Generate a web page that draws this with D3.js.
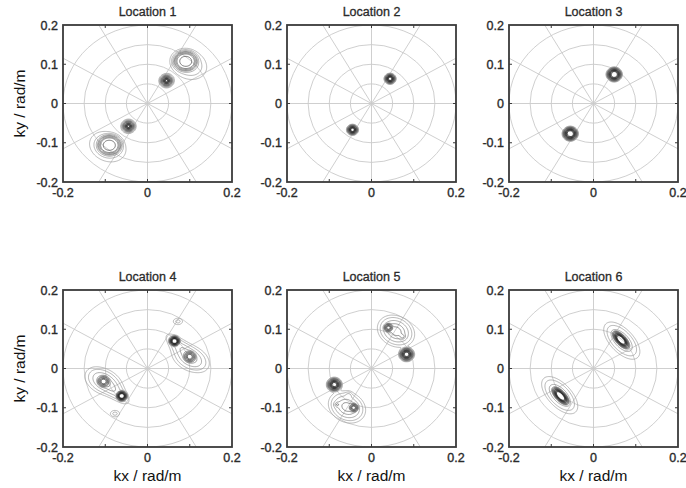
<!DOCTYPE html>
<html>
<head>
<meta charset="utf-8">
<script src="https://cdn.jsdelivr.net/npm/d3@7"></script>
<style>
  body { margin: 0; background: #fff; }
  svg { display: block; font-family: Arial, "Liberation Sans", sans-serif; }
  .grid { fill: none; stroke: #c9c9c9; stroke-width: 0.9; }
  .frame { fill: none; stroke: #3a3a3a; stroke-width: 1.8; }
  .tick { stroke: #3a3a3a; stroke-width: 1; }
  .tick-label { font-size: 12.5px; fill: #2a2a2a; stroke: #2a2a2a; stroke-width: 0.35; }
  .title { font-size: 12.5px; fill: #2a2a2a; stroke: #2a2a2a; stroke-width: 0.3; }
  .axis-title { font-size: 15.5px; fill: #111; }
</style>
</head>
<body>
<svg id="chart" width="686" height="488"></svg>
<script>
// ---- data ----
const locations = ['Location 1', 'Location 2', 'Location 3', 'Location 4', 'Location 5', 'Location 6'];
const xTicks = [-0.2, 0, 0.2];
const yTicks = [-0.2, -0.1, 0, 0.1, 0.2];
const minorTicks = [-0.1, 0, 0.1];
const gridRadii = [0.05, 0.1, 0.15, 0.2];
const spokeAngles = [0, 30, 60, 90, 120, 150, 180, 210, 240, 270, 300, 330];
const contourLevels = [0.01, 0.02, 0.04, 0.07, 0.1, 0.15, 0.2, 0.3, 0.4, 0.5, 0.6, 0.7, 0.8, 0.9];

// spectral peaks: kx, ky (rad/m), spread along/across (rad/m), angle (deg), amplitude, shape power
const peaks1 = [
  {kx: 0.045, ky: 0.058, su: 0.006, sv: 0.006, angle: 0, amp: 1.0, power: 2},
  {kx: -0.045, ky: -0.058, su: 0.006, sv: 0.006, angle: 0, amp: 1.0, power: 2},
  {kx: 0.090, ky: 0.108, su: 0.020, sv: 0.018, angle: 0, amp: 0.3, power: 4},
  {kx: 0.097, ky: 0.100, su: 0.026, sv: 0.021, angle: -30, amp: 0.045, power: 2},
  {kx: -0.090, ky: -0.106, su: 0.020, sv: 0.018, angle: 0, amp: 0.3, power: 4},
  {kx: -0.094, ky: -0.110, su: 0.026, sv: 0.021, angle: -30, amp: 0.045, power: 2}
];
const peaks2 = [
  {kx: 0.044, ky: 0.063, su: 0.0068, sv: 0.0068, angle: 0, amp: 1.0, power: 3},
  {kx: -0.045, ky: -0.067, su: 0.0068, sv: 0.0068, angle: 0, amp: 1.0, power: 3}
];
const peaks3 = [
  {kx: 0.049, ky: 0.074, su: 0.011, sv: 0.011, angle: 0, amp: 1.0, power: 4},
  {kx: -0.055, ky: -0.077, su: 0.011, sv: 0.011, angle: 0, amp: 1.0, power: 4}
];
const peaks4 = [
  {kx: 0.064, ky: 0.070, su: 0.008, sv: 0.008, angle: 0, amp: 1.0, power: 4},
  {kx: 0.100, ky: 0.030, su: 0.008, sv: 0.008, angle: 0, amp: 0.5, power: 3},
  {kx: 0.102, ky: 0.026, su: 0.024, sv: 0.016, angle: -30, amp: 0.07, power: 2},
  {kx: 0.082, ky: 0.050, su: 0.028, sv: 0.010, angle: -45, amp: 0.05, power: 2},
  {kx: 0.072, ky: 0.120, su: 0.008, sv: 0.006, angle: 0, amp: 0.025, power: 2},
  {kx: -0.061, ky: -0.070, su: 0.008, sv: 0.008, angle: 0, amp: 1.0, power: 4},
  {kx: -0.104, ky: -0.033, su: 0.008, sv: 0.008, angle: 0, amp: 0.5, power: 3},
  {kx: -0.104, ky: -0.033, su: 0.024, sv: 0.016, angle: -30, amp: 0.07, power: 2},
  {kx: -0.082, ky: -0.052, su: 0.028, sv: 0.010, angle: -45, amp: 0.05, power: 2},
  {kx: -0.077, ky: -0.115, su: 0.008, sv: 0.006, angle: 0, amp: 0.025, power: 2}
];
const peaks5 = [
  {kx: 0.083, ky: 0.036, su: 0.009, sv: 0.009, angle: 0, amp: 1.0, power: 3},
  {kx: -0.088, ky: -0.041, su: 0.009, sv: 0.009, angle: 0, amp: 1.0, power: 3},
  {kx: 0.040, ky: 0.104, su: 0.006, sv: 0.006, angle: 0, amp: 0.5, power: 3},
  {kx: 0.058, ky: 0.095, su: 0.021, sv: 0.017, angle: -35, amp: 0.12, power: 2},
  {kx: 0.074, ky: 0.081, su: 0.004, sv: 0.004, angle: 0, amp: 0.05, power: 2},
  {kx: -0.042, ky: -0.100, su: 0.006, sv: 0.006, angle: 0, amp: 0.5, power: 3},
  {kx: -0.058, ky: -0.098, su: 0.021, sv: 0.017, angle: -35, amp: 0.12, power: 2},
  {kx: -0.082, ky: -0.092, su: 0.004, sv: 0.004, angle: 0, amp: 0.05, power: 2},
  {kx: -0.054, ky: -0.068, su: 0.005, sv: 0.005, angle: 0, amp: 0.03, power: 2}
];
const peaks6 = [
  {kx: 0.065, ky: 0.073, su: 0.017, sv: 0.0075, angle: -50, amp: 1.0, power: 4},
  {kx: 0.067, ky: 0.071, su: 0.028, sv: 0.014, angle: -50, amp: 0.08, power: 2},
  {kx: -0.078, ky: -0.070, su: 0.017, sv: 0.0075, angle: -50, amp: 1.0, power: 4},
  {kx: -0.080, ky: -0.068, su: 0.028, sv: 0.014, angle: -50, amp: 0.08, power: 2}
];
const peaksByLocation = [peaks1, peaks2, peaks3, peaks4, peaks5, peaks6];

class PolarContour {

  constructor(_config, _peaks) {
    this.config = {
      parentElement: _config.parentElement,
      title: _config.title,
      x: _config.x,
      y: _config.y,
      width: _config.width || 169,
      height: _config.height || 157,
      showXTitle: _config.showXTitle || false,
      showYTitle: _config.showYTitle || false,
      gridSize: _config.gridSize || 200,
      id: _config.id
    }
    this.peaks = _peaks;
    this.initVis();
  }

  initVis() {
    let vis = this;

    vis.xScale = d3.scaleLinear().domain([-0.2, 0.2]).range([0, vis.config.width]);
    vis.yScale = d3.scaleLinear().domain([-0.2, 0.2]).range([vis.config.height, 0]);

    vis.colorScale = d3.scaleLinear()
        .domain([0.01, 0.1, 0.5, 1])
        .range(['#a0a0a0', '#6a6a6a', '#333333', '#111111']);

    vis.chart = d3.select(vis.config.parentElement).append('g')
        .attr('transform', `translate(${vis.config.x},${vis.config.y})`);

    vis.chart.append('clipPath')
        .attr('id', `clip-${vis.config.id}`)
      .append('rect')
        .attr('width', vis.config.width)
        .attr('height', vis.config.height);

    vis.inner = vis.chart.append('g')
        .attr('clip-path', `url(#clip-${vis.config.id})`);

    // polar grid: circles and spokes out to the box edge
    let cx = vis.xScale(0), cy = vis.yScale(0);
    vis.inner.selectAll('.ring')
        .data(gridRadii)
      .join('ellipse')
        .attr('class', 'grid ring')
        .attr('cx', cx)
        .attr('cy', cy)
        .attr('rx', d => vis.xScale(d) - cx)
        .attr('ry', d => cy - vis.yScale(d));

    vis.inner.selectAll('.spoke')
        .data(spokeAngles)
      .join('line')
        .attr('class', 'grid spoke')
        .attr('x1', cx)
        .attr('y1', cy)
        .attr('x2', d => vis.xScale(0.35 * Math.cos(d * Math.PI / 180)))
        .attr('y2', d => vis.yScale(0.35 * Math.sin(d * Math.PI / 180)));

    vis.contourG = vis.inner.append('g');

    // frame and inward ticks
    vis.chart.append('rect')
        .attr('class', 'frame')
        .attr('width', vis.config.width)
        .attr('height', vis.config.height);

    let tl = 3;
    minorTicks.forEach(t => {
      let x = vis.xScale(t), y = vis.yScale(t);
      vis.chart.append('line').attr('class', 'tick')
          .attr('x1', x).attr('x2', x).attr('y1', 0).attr('y2', tl);
      vis.chart.append('line').attr('class', 'tick')
          .attr('x1', x).attr('x2', x).attr('y1', vis.config.height).attr('y2', vis.config.height - tl);
      vis.chart.append('line').attr('class', 'tick')
          .attr('x1', 0).attr('x2', tl).attr('y1', y).attr('y2', y);
      vis.chart.append('line').attr('class', 'tick')
          .attr('x1', vis.config.width).attr('x2', vis.config.width - tl).attr('y1', y).attr('y2', y);
    });

    let fmt = d => d === 0 ? '0' : d3.format('.1f')(d).replace('−', '-');

    vis.chart.selectAll('.ylab')
        .data(yTicks)
      .join('text')
        .attr('class', 'tick-label ylab')
        .attr('x', -5)
        .attr('y', d => vis.yScale(d))
        .attr('dy', '0.36em')
        .attr('text-anchor', 'end')
        .text(fmt);

    vis.chart.selectAll('.xlab')
        .data(xTicks)
      .join('text')
        .attr('class', 'tick-label xlab')
        .attr('x', d => vis.xScale(d))
        .attr('y', vis.config.height + 15)
        .attr('text-anchor', 'middle')
        .text(fmt);

    vis.chart.append('text')
        .attr('class', 'title')
        .attr('x', vis.config.width / 2)
        .attr('y', -9)
        .attr('text-anchor', 'middle')
        .text(vis.config.title);

    if (vis.config.showXTitle) {
      vis.chart.append('text')
          .attr('class', 'axis-title')
          .attr('x', vis.config.width / 2)
          .attr('y', vis.config.height + 34)
          .attr('text-anchor', 'middle')
          .text('kx / rad/m');
    }
    if (vis.config.showYTitle) {
      vis.chart.append('text')
          .attr('class', 'axis-title')
          .attr('transform', `translate(${25 - vis.config.x},${vis.config.height / 2}) rotate(-90)`)
          .attr('text-anchor', 'middle')
          .text('ky / rad/m');
    }
  }

  updateVis() {
    let vis = this;
    let n = vis.config.gridSize;
    vis.step = 0.4 / n;
    vis.values = new Float64Array(n * n);

    let prepared = vis.peaks.map(p => ({
      ...p,
      c: Math.cos(p.angle * Math.PI / 180),
      s: Math.sin(p.angle * Math.PI / 180)
    }));

    for (let j = 0; j < n; j++) {
      let ky = 0.2 - (j + 0.5) * vis.step;
      for (let i = 0; i < n; i++) {
        let kx = -0.2 + (i + 0.5) * vis.step;
        let v = 0;
        prepared.forEach(p => {
          let dx = kx - p.kx, dy = ky - p.ky;
          let u = (dx * p.c + dy * p.s) / p.su;
          let w = (-dx * p.s + dy * p.c) / p.sv;
          v += p.amp * Math.exp(-0.5 * Math.pow(u * u + w * w, p.power / 2));
        });
        vis.values[i + j * n] = v;
      }
    }

    vis.renderVis();
  }

  renderVis() {
    let vis = this;
    let n = vis.config.gridSize;

    let contours = d3.contours()
        .size([n, n])
        .thresholds(contourLevels)(vis.values);

    let projection = d3.geoTransform({
      point: function(x, y) {
        this.stream.point(vis.xScale(-0.2 + x * vis.step), vis.yScale(0.2 - y * vis.step));
      }
    });
    let path = d3.geoPath(projection);

    vis.contourG.selectAll('path')
        .data(contours)
      .join('path')
        .attr('d', path)
        .attr('fill', 'none')
        .attr('stroke', d => vis.colorScale(d.value))
        .attr('stroke-width', 0.75);
  }
}

const colX = [63, 287, 509];
const rowY = [25, 290];

locations.forEach((name, i) => {
  let col = i % 3, row = Math.floor(i / 3);
  let panel = new PolarContour({
    parentElement: '#chart',
    title: name,
    id: i,
    x: colX[col],
    y: rowY[row],
    showXTitle: row === 1,
    showYTitle: col === 0
  }, peaksByLocation[i]);
  panel.updateVis();
});
</script>
</body>
</html>
